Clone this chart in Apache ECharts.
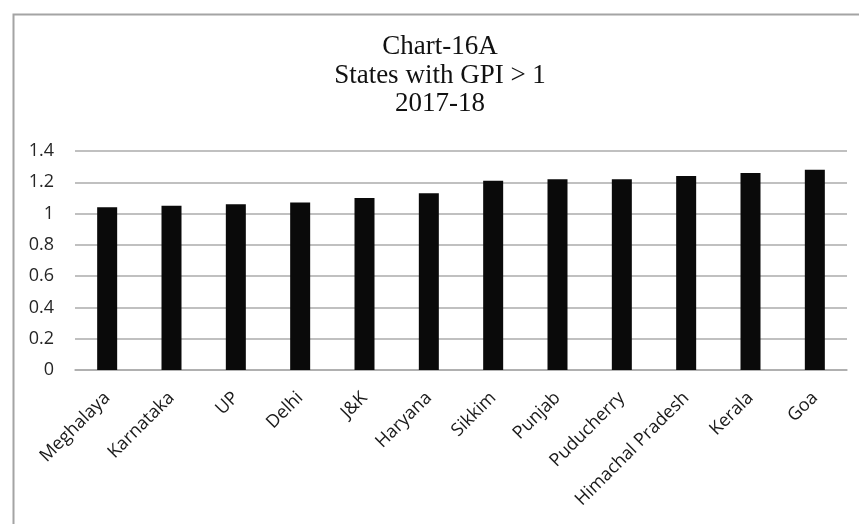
<!DOCTYPE html>
<html>
<head>
<meta charset="utf-8">
<script src="https://cdn.jsdelivr.net/npm/echarts@6/dist/echarts.min.js"></script>
<style>
  html, body { margin: 0; padding: 0; background: #ffffff; }
  #chart { width: 859px; height: 524px; }
</style>
</head>
<body>
<div id="chart"></div>
<script>
// Gender Parity Index by state, 2017-18 (states above parity)
const states = ['Meghalaya', 'Karnataka', 'UP', 'Delhi', 'J&K', 'Haryana', 'Sikkim',
                'Punjab', 'Puducherry', 'Himachal Pradesh', 'Kerala', 'Goa'];
const gpiValues = [1.04, 1.05, 1.06, 1.07, 1.10, 1.13, 1.21, 1.22, 1.22, 1.24, 1.26, 1.28];
const yTicks = [0, 0.2, 0.4, 0.6, 0.8, 1, 1.2, 1.4];
const titleLines = ['Chart-16A', 'States with GPI > 1', '2017-18'];

const chart = echarts.init(document.getElementById('chart'), null, { renderer: 'canvas' });

const option = {
  backgroundColor: '#ffffff',
  animation: false,
  title: {
    text: titleLines.join('\n'),
    left: 440,
    top: 33,
    textAlign: 'center',
    padding: 0,
    textStyle: {
      fontFamily: '"Liberation Serif", "DejaVu Serif", serif',
      fontSize: 27,
      fontWeight: 'normal',
      lineHeight: 28.5,
      color: '#111111'
    }
  },
  graphic: [{
    type: 'rect',
    left: 11,
    top: 12,
    shape: { width: 900, height: 600 },
    style: { fill: 'none', stroke: '#a4a4a4', lineWidth: 2 },
    silent: true
  }],
  grid: {
    left: 75,
    right: 12,
    top: 151,
    bottom: 154,
    containLabel: false
  },
  xAxis: {
    type: 'category',
    data: states,
    axisLine: { show: true, lineStyle: { color: '#ababab', width: 1.5 } },
    axisTick: { show: false },
    axisLabel: {
      interval: 0,
      rotate: 45,
      margin: 25,
      fontFamily: '"Open Sans", "Noto Sans", sans-serif',
      fontSize: 18,
      color: '#1a1a1a'
    }
  },
  yAxis: {
    type: 'value',
    min: yTicks[0],
    max: yTicks[yTicks.length - 1],
    interval: 0.2,
    axisLine: { show: false },
    axisTick: { show: false },
    splitLine: { show: true, lineStyle: { color: '#ababab', width: 1.5 } },
    axisLabel: {
      margin: 21,
      fontFamily: '"Open Sans", "Noto Sans", sans-serif',
      fontSize: 18,
      color: '#262626',
      formatter: function (v) { return String(Math.round(v * 10) / 10); }
    }
  },
  series: [{
    type: 'bar',
    data: gpiValues,
    barWidth: 20,
    itemStyle: { color: '#0a0a0a' }
  }]
};

chart.setOption(option);
</script>
</body>
</html>
